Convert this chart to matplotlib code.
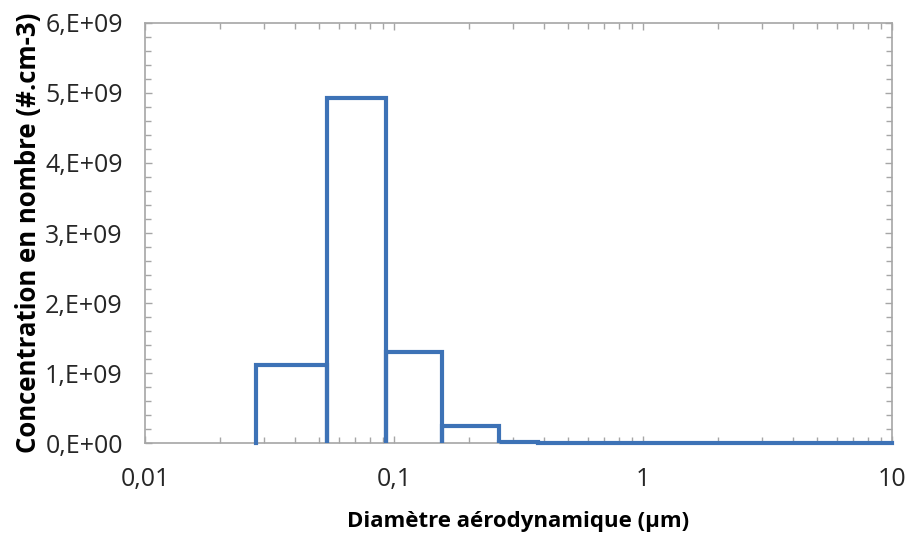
import matplotlib
matplotlib.use("Agg")
import matplotlib.pyplot as plt
from matplotlib.ticker import FixedLocator, FuncFormatter, LogLocator, MultipleLocator

# bin edges (µm) and number concentration per bin (#.cm-3)
edges = [0.028, 0.054, 0.093, 0.156, 0.263, 0.38, 0.61, 0.95, 1.6, 2.4, 4.0, 10.0]
conc = [1.12e9, 4.93e9, 1.30e9, 0.24e9, 0.02e9, 0.003e9, 0.0, 0.0, 0.0, 0.0, 0.0]

x_ticks = [0.01, 0.1, 1, 10]
x_tick_labels = ["0,01", "0,1", "1", "10"]

plt.rcParams["font.family"] = ["Open Sans", "DejaVu Sans"]

line_color = "#3d72b6"
spine_color = "#a6a6a6"

# each bin drawn as its own rectangle outline (down to zero at every edge)
xs, ys = [], []
for lo, hi, h in zip(edges[:-1], edges[1:], conc):
    xs += [lo, lo, hi, hi]
    ys += [0, h, h, 0]

fig = plt.figure(figsize=(9.08, 5.33), dpi=100)
ax = fig.add_axes([0.1597, 0.1683, 0.8227, 0.7891])

ax.plot(xs, ys, color=line_color, lw=3.0, solid_joinstyle="miter", clip_on=False, zorder=5)

ax.set_xscale("log")
ax.set_xlim(0.01, 10)
ax.set_ylim(0, 6e9)

ax.xaxis.set_major_locator(FixedLocator(x_ticks))
ax.xaxis.set_major_formatter(FuncFormatter(lambda v, p: x_tick_labels[x_ticks.index(v)] if v in x_ticks else ""))
ax.xaxis.set_minor_locator(LogLocator(base=10, subs=range(2, 10)))
ax.yaxis.set_major_locator(MultipleLocator(1e9))
ax.yaxis.set_minor_locator(MultipleLocator(0.2e9))
ax.yaxis.set_major_formatter(FuncFormatter(lambda v, p: "%d,E+%02d" % (round(v / 1e9), 9 if v else 0)))

for s in ax.spines.values():
    s.set_color(spine_color)
    s.set_linewidth(1.2)

ax.tick_params(which="both", direction="in", top=True, right=True, color=spine_color, labelsize=18, labelcolor="#262626")
ax.tick_params(which="major", length=5, width=1)
ax.tick_params(which="minor", length=4, width=1)
ax.tick_params(axis="x", which="major", pad=17)
ax.tick_params(axis="y", which="major", pad=16)

ax.set_xlabel("Diamètre aérodynamique (µm)", fontsize=16, fontweight="bold", labelpad=14)
ax.set_ylabel("Concentration en nombre (#.cm-3)", fontsize=18.5, fontweight="bold", labelpad=2)

fig.savefig("out.png", dpi=100)
